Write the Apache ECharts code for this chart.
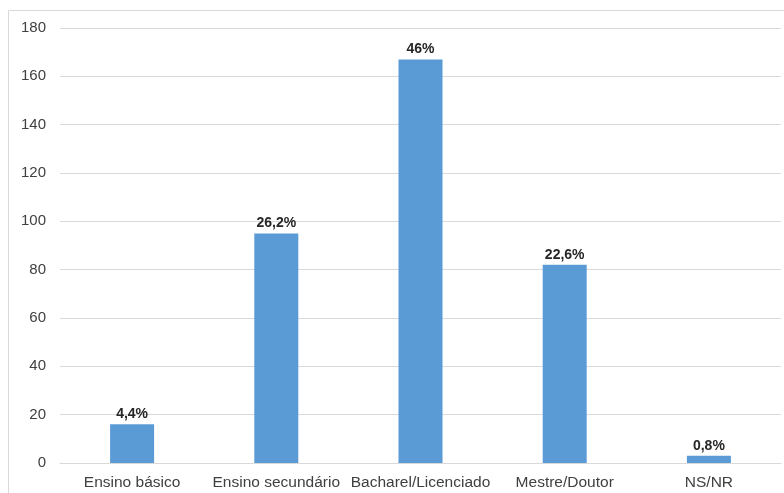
<!DOCTYPE html>
<html>
<head>
<meta charset="utf-8">
<script src="https://cdn.jsdelivr.net/npm/echarts@6/dist/echarts.min.js"></script>
<style>
html,body{margin:0;padding:0;background:#fff;}
#chart{width:784px;height:493px;}
</style>
</head>
<body>
<div id="chart"></div>
<script>
var categories = ['Ensino básico', 'Ensino secundário', 'Bacharel/Licenciado', 'Mestre/Doutor', 'NS/NR'];
var values = [16, 95, 167, 82, 3];
var percentLabels = ['4,4%', '26,2%', '46%', '22,6%', '0,8%'];
var yTicks = { min: 0, max: 180, interval: 20 };

var chart = echarts.init(document.getElementById('chart'), null, { renderer: 'canvas' });
chart.setOption({
  animation: false,
  backgroundColor: '#ffffff',
  graphic: [{
    type: 'rect',
    shape: { x: 8.5, y: 10.5, width: 790, height: 500 },
    style: { fill: 'none', stroke: '#d9d9d9', lineWidth: 1 },
    silent: true,
    z: -1
  }],
  grid: { left: 60, right: 3, top: 28, bottom: 30, containLabel: false },
  xAxis: {
    type: 'category',
    data: categories,
    axisTick: { show: false },
    axisLine: { lineStyle: { color: '#d9d9d9', width: 1 } },
    axisLabel: {
      color: '#404040',
      fontFamily: 'Liberation Sans, Arial, sans-serif',
      fontSize: 15.5,
      margin: 12,
      interval: 0
    }
  },
  yAxis: {
    type: 'value',
    min: yTicks.min,
    max: yTicks.max,
    interval: yTicks.interval,
    axisLine: { show: false },
    axisTick: { show: false },
    splitLine: { lineStyle: { color: '#d9d9d9', width: 1 } },
    axisLabel: {
      color: '#404040',
      fontFamily: 'Liberation Sans, Arial, sans-serif',
      fontSize: 15,
      margin: 14
    }
  },
  series: [{
    type: 'bar',
    data: values,
    barWidth: 44,
    itemStyle: { color: '#5b9bd5' },
    label: {
      show: true,
      position: 'top',
      distance: 3,
      color: '#262626',
      fontFamily: 'Liberation Sans, Arial, sans-serif',
      fontSize: 14,
      fontWeight: 'bold',
      formatter: function (p) { return percentLabels[p.dataIndex]; }
    }
  }]
});
</script>
</body>
</html>
